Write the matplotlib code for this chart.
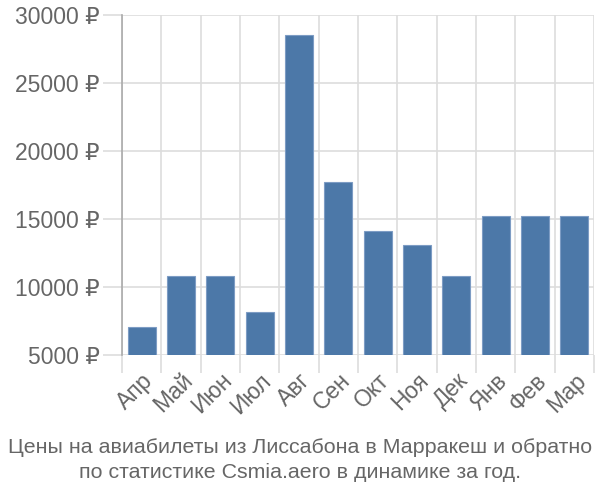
import matplotlib as mpl
mpl.use("Agg")
import matplotlib.pyplot as plt
import numpy as np

plt.rcParams['font.family'] = ['Liberation Sans', 'DejaVu Sans']

months = ["Апр", "Май", "Июн", "Июл", "Авг", "Сен", "Окт", "Ноя", "Дек", "Янв", "Фев", "Мар"]
prices = [7030, 10830, 10830, 8160, 28550, 17720, 14090, 13090, 10830, 15220, 15220, 15220]
yticks = [5000, 10000, 15000, 20000, 25000, 30000]

grey = "#666666"
gridc = "#dddddd"

fig = plt.figure(figsize=(6, 5), dpi=100)
ax = fig.add_axes([122/600, 1-355/500, 472/600, 340/500])

x = np.arange(len(months))
ax.bar(x, prices, width=0.72, color="#4c78a8", edgecolor="#7d9cc4", linewidth=0.8, zorder=3)

ax.set_xlim(-0.5, len(months) - 0.5)
ax.set_ylim(5000, 30000)

ax.set_yticks(yticks)
ax.set_yticklabels([f"{v} ₽" for v in yticks], fontsize=16.5, color=grey)
ax.tick_params(axis='y', length=14, color=gridc, width=1.2, pad=2)

ax.set_xticks(x)
ax.set_xticklabels(months, rotation=45, ha='right', rotation_mode='anchor', fontsize=16.5, color=grey)
ax.tick_params(axis='x', which='major', length=0, pad=10)
ax.set_xticks(np.arange(-0.5, len(months)), minor=True)
ax.tick_params(axis='x', which='minor', length=13, color=gridc, width=1.2)

ax.grid(axis='y', which='major', color=gridc, linewidth=1.2, zorder=0)
ax.grid(axis='x', which='minor', color=gridc, linewidth=1.2, zorder=0)

for s in ['top', 'right', 'bottom']:
    ax.spines[s].set_visible(False)
ax.spines['left'].set_color("#aaaaaa")
ax.spines['left'].set_linewidth(1.2)

fig.text(0.5, 0.08, "Цены на авиабилеты из Лиссабона в Марракеш и обратно\nпо статистике Csmia.aero в динамике за год.",
         ha='center', va='center', fontsize=15.4, color=grey, linespacing=1.35)

fig.savefig("out.png", dpi=100)
